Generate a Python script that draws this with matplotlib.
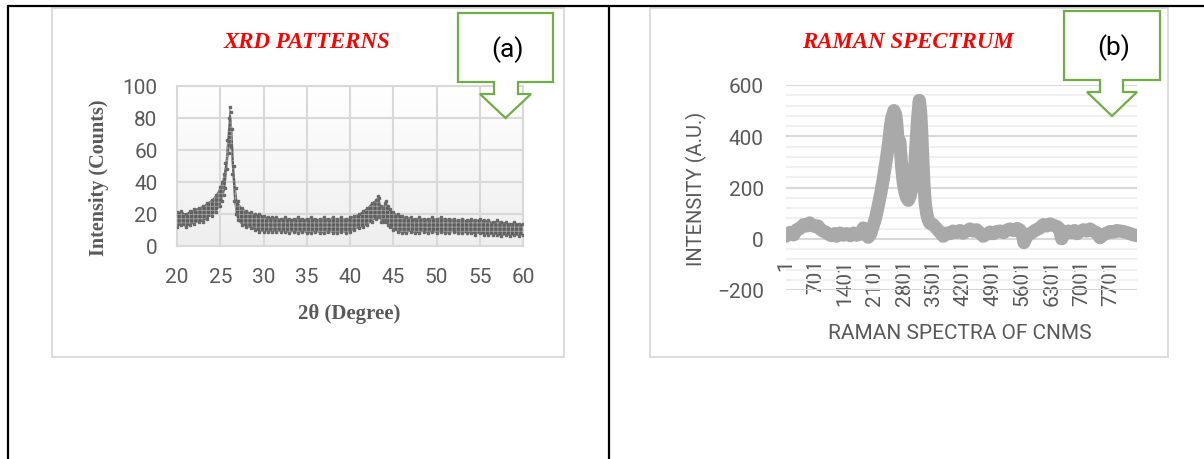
import numpy as np
import matplotlib
matplotlib.use("Agg")
import matplotlib.pyplot as plt
from matplotlib.patches import Rectangle, Polygon

# ---------------- data ----------------
xrd_two_theta = [20.0, 20.5, 21.0, 21.5, 22.0, 22.5, 23.0, 23.5, 24.0, 24.5,
                 25.0, 25.2, 25.4, 25.6, 25.8, 26.0, 26.1, 26.2, 26.4, 26.6,
                 26.8, 27.0, 27.5, 28.0, 28.5, 29.0, 29.5, 30.0, 30.5, 31.0,
                 31.5, 32.0, 32.5, 33.0, 33.5, 34.0, 34.5, 35.0, 35.5, 36.0,
                 36.5, 37.0, 37.5, 38.0, 38.5, 39.0, 39.5, 40.0, 40.5, 41.0,
                 41.5, 42.0, 42.5, 43.0, 43.2, 43.4, 43.6, 43.8, 44.0, 44.2,
                 44.4, 44.6, 45.0, 45.5, 46.0, 46.5, 47.0, 47.5, 48.0, 48.5,
                 49.0, 49.5, 50.0, 50.5, 51.0, 51.5, 52.0, 52.5, 53.0, 53.5,
                 54.0, 54.5, 55.0, 55.5, 56.0, 56.5, 57.0, 57.5, 58.0, 58.5,
                 59.0, 59.5, 60.0]
xrd_upper = [21, 22, 20, 22, 23, 24, 25, 27, 29, 32,
             37, 40, 45, 52, 66, 80, 87, 84, 73, 50,
             36, 28, 24, 22, 21, 20, 20, 19, 18, 18,
             18, 17, 18, 17, 17, 18, 17, 17, 18, 17,
             17, 18, 17, 18, 17, 18, 17, 18, 19, 20,
             22, 24, 27, 29, 31, 30, 25, 24, 27, 28,
             25, 23, 21, 20, 19, 18, 18, 17, 18, 17,
             17, 18, 17, 18, 17, 17, 17, 16, 17, 16,
             17, 16, 17, 16, 16, 15, 16, 15, 15, 14,
             15, 14, 14]
xrd_lower = [12, 13, 12, 13, 14, 15, 15, 17, 19, 21,
             25, 28, 32, 36, 48, 58, 63, 62, 45, 28,
             20, 16, 13, 12, 11, 10, 9, 9, 9, 9,
             9, 9, 9, 8, 9, 8, 9, 8, 8, 9,
             8, 8, 9, 8, 8, 9, 8, 9, 10, 11,
             12, 13, 15, 17, 18, 18, 15, 15, 16, 15,
             13, 12, 10, 9, 8, 8, 9, 8, 8, 9,
             8, 9, 8, 9, 8, 8, 9, 8, 8, 8,
             8, 7, 8, 7, 7, 7, 7, 6, 7, 6,
             7, 6, 7]
xrd_xticks = [20, 25, 30, 35, 40, 45, 50, 55, 60]
xrd_yticks = [0, 20, 40, 60, 80, 100]

raman_index = [1, 100, 180, 253, 330, 420, 490, 560, 608, 680,
               760, 806, 880, 950, 1003, 1080, 1150, 1201, 1280, 1360,
               1438, 1520, 1600, 1675, 1760, 1833, 1900, 1951, 2010, 2070,
               2130, 2188, 2250, 2307, 2370, 2425, 2470, 2505, 2560, 2600,
               2623, 2662, 2700, 2742, 2780, 2821, 2860, 2900, 2940, 2979,
               3020, 3058, 3090, 3121, 3160, 3190, 3216, 3240, 3271, 3300,
               3334, 3370, 3413, 3490, 3571, 3650, 3729, 3800, 3887, 3960,
               4040, 4124, 4200, 4280, 4360, 4440, 4520, 4600, 4677, 4760,
               4840, 4920, 4994, 5080, 5160, 5240, 5310, 5400, 5480, 5547,
               5600, 5641, 5690, 5744, 5840, 5942, 6020, 6100, 6180, 6260,
               6340, 6416, 6480, 6535, 6600, 6693, 6760, 6840, 6900, 6969,
               7050, 7130, 7206, 7300, 7380, 7443, 7520, 7601, 7680, 7760,
               7840, 7917, 8000, 8080, 8154, 8240, 8312]
raman_intensity = [10, 25, 15, 35, 40, 55, 50, 62, 55, 48,
                   50, 38, 30, 25, 18, 12, 20, 10, 22, 14,
                   20, 12, 22, 14, 18, 42, 20, 6, 20, 52,
                   85, 130, 180, 234, 300, 364, 430, 470, 500, 485,
                   455, 370, 380, 280, 220, 182, 160, 150, 165, 195,
                   240, 300, 390, 470, 540, 500, 420, 320, 210, 140,
                   100, 75, 60, 55, 40, 25, 10, 22, 20, 30,
                   25, 32, 22, 30, 38, 30, 35, 22, 10, 18,
                   26, 20, 28, 30, 24, 34, 38, 32, 40, 34,
                   20, -15, 5, 15, 25, 36, 42, 55, 50, 58,
                   52, 48, 40, 0, 20, 30, 24, 32, 20, 28,
                   35, 30, 38, 28, 22, 4, 15, 22, 28, 26,
                   32, 30, 28, 24, 20, 15, 12]
raman_n_points = 8320
raman_xtick_labels = ['1', '701', '1401', '2101', '2801', '3501', '4201',
                      '4901', '5601', '6301', '7001', '7701']
raman_yticks = [-200, 0, 200, 400, 600]

# ---------------- figure ----------------
W, H = 1204, 460
fig = plt.figure(figsize=(W / 100, H / 100), dpi=100)
SANS = ['Roboto', 'DejaVu Sans']
SERIF = ['Liberation Serif', 'DejaVu Serif']
TXT = '#595959'

def frac(l, t, r, b):
    return [l / W, 1 - b / H, (r - l) / W, (b - t) / H]

# background layer: table lines and chart frames
bg = fig.add_axes([0, 0, 1, 1], zorder=0)
bg.set_xlim(0, W); bg.set_ylim(H, 0); bg.axis('off')
bg.plot([7, W], [7, 7], color='black', lw=1.6, solid_capstyle='butt')
bg.plot([8, 8], [7, H], color='black', lw=1.6, solid_capstyle='butt')
bg.plot([609, 609], [7, H], color='black', lw=1.6, solid_capstyle='butt')
bg.add_patch(Rectangle((52, 9), 512, 349, fill=False, ec='#d9d9d9', lw=1.3))
bg.add_patch(Rectangle((650, 9), 518, 349, fill=False, ec='#d9d9d9', lw=1.3))

# ---------------- XRD ----------------
ax1 = fig.add_axes(frac(177, 87, 523, 247), zorder=1)
ax1.set_xlim(20, 60); ax1.set_ylim(0, 100)
shade = np.linspace(1.0, 0.935, 256).reshape(-1, 1, 1) * np.ones((1, 1, 3))
ax1.imshow(shade, extent=[20, 60, 0, 100], aspect='auto', zorder=0)
ax1.set_xticks(xrd_xticks); ax1.set_yticks(xrd_yticks)
ax1.grid(True, color='#d9d9d9', lw=1.5, zorder=1)
ax1.set_axisbelow(True)
for s in ax1.spines.values():
    s.set_color('#d9d9d9'); s.set_linewidth(1.5)
ax1.tick_params(length=0, labelsize=15, labelcolor=TXT)
ax1.tick_params(axis='x', pad=15)
ax1.tick_params(axis='y', pad=14)
for lab in ax1.get_xticklabels() + ax1.get_yticklabels():
    lab.set_family(SANS)
plt.rcParams['hatch.linewidth'] = 0.6
ax1.fill_between(xrd_two_theta, xrd_lower, xrd_upper, facecolor='#5e5e5e',
                 edgecolor='#a0a0a0', hatch='++++', lw=0, zorder=3)
ax1.plot(xrd_two_theta, xrd_upper, color='#6a6a6a', lw=0, marker='s', ms=1.8, zorder=4)
ax1.plot(xrd_two_theta, xrd_lower, color='#6a6a6a', lw=0, marker='s', ms=1.8, zorder=4)

# ---------------- Raman ----------------
ax2 = fig.add_axes(frac(786, 86, 1137, 291), zorder=1)
ax2.set_xlim(0.5, raman_n_points + 0.5); ax2.set_ylim(-200, 600)
ax2.set_yticks(raman_yticks)
ax2.set_yticks(np.arange(-200, 601, 40), minor=True)
ax2.grid(True, which='major', axis='y', color='#d9d9d9', lw=1.5)
ax2.grid(True, which='minor', axis='y', color='#f0f0f0', lw=1.5)
ax2.set_axisbelow(True)
for k in ['top', 'left', 'right']:
    ax2.spines[k].set_visible(False)
ax2.spines['bottom'].set_position(('data', 0))
ax2.spines['bottom'].set_visible(False)
tick_pos = [int(t) for t in raman_xtick_labels]
ax2.set_xticks(tick_pos)
ax2.set_xticklabels(raman_xtick_labels, rotation=90, va='top', ha='center')
ax2.tick_params(which='both', length=0, labelcolor=TXT)
ax2.tick_params(axis='x', labelsize=15, pad=14)
ax2.tick_params(axis='y', labelsize=15, pad=16)
for lab in ax2.get_xticklabels() + ax2.get_yticklabels():
    lab.set_family(SANS)
ax2.plot(raman_index, raman_intensity, color='#a9a9a9', lw=9.5,
         solid_joinstyle='round', solid_capstyle='round', zorder=3)

# ---------------- foreground: texts and callouts ----------------
fg = fig.add_axes([0, 0, 1, 1], zorder=5)
fg.set_xlim(0, W); fg.set_ylim(H, 0); fg.axis('off'); fg.patch.set_alpha(0)

fg.text(307, 43, 'XRD PATTERNS', color='red', fontsize=16.5, fontweight='bold',
        fontstyle='italic', family=SERIF, ha='center', va='center')
fg.text(908, 42, 'RAMAN SPECTRUM', color='red', fontsize=16.5, fontweight='bold',
        fontstyle='italic', family=SERIF, ha='center', va='center')
fg.text(99, 178, 'Intensity (Counts)', color=TXT, fontsize=14.5, fontweight='bold',
        family=SERIF, rotation=90, ha='center', va='center')
fg.text(349, 314, '2θ (Degree)', color=TXT, fontsize=15, fontweight='bold',
        family=SERIF, ha='center', va='center')
fg.text(696, 189, 'INTENSITY (A.U.)', color=TXT, fontsize=14.5,
        family=SANS, rotation=90, ha='center', va='center')
fg.text(960, 334, 'RAMAN SPECTRA OF CNMS', color=TXT, fontsize=15,
        family=SANS, ha='center', va='center')

def callout(l, r, t, b, sl, sr, sb, hl, hr, tip_y, label):
    mid = (hl + hr) / 2
    pts = [(l, t), (r, t), (r, b), (sr, b), (sr, sb), (hr, sb), (mid, tip_y),
           (hl, sb), (sl, sb), (sl, b), (l, b)]
    fg.add_patch(Polygon(pts, closed=True, fc='white', ec='#70ad47', lw=1.6))
    fg.text((l + r) / 2 + 2, (t + b) / 2 + 1, label, fontsize=19, color='black',
            family=SANS, ha='center', va='center')

callout(458, 553, 14, 83, 494, 518, 95, 480, 531, 119, '(a)')
callout(1064, 1160, 12, 81, 1100, 1123, 93, 1087, 1137, 117, '(b)')

fig.savefig('out.png', dpi=100)
